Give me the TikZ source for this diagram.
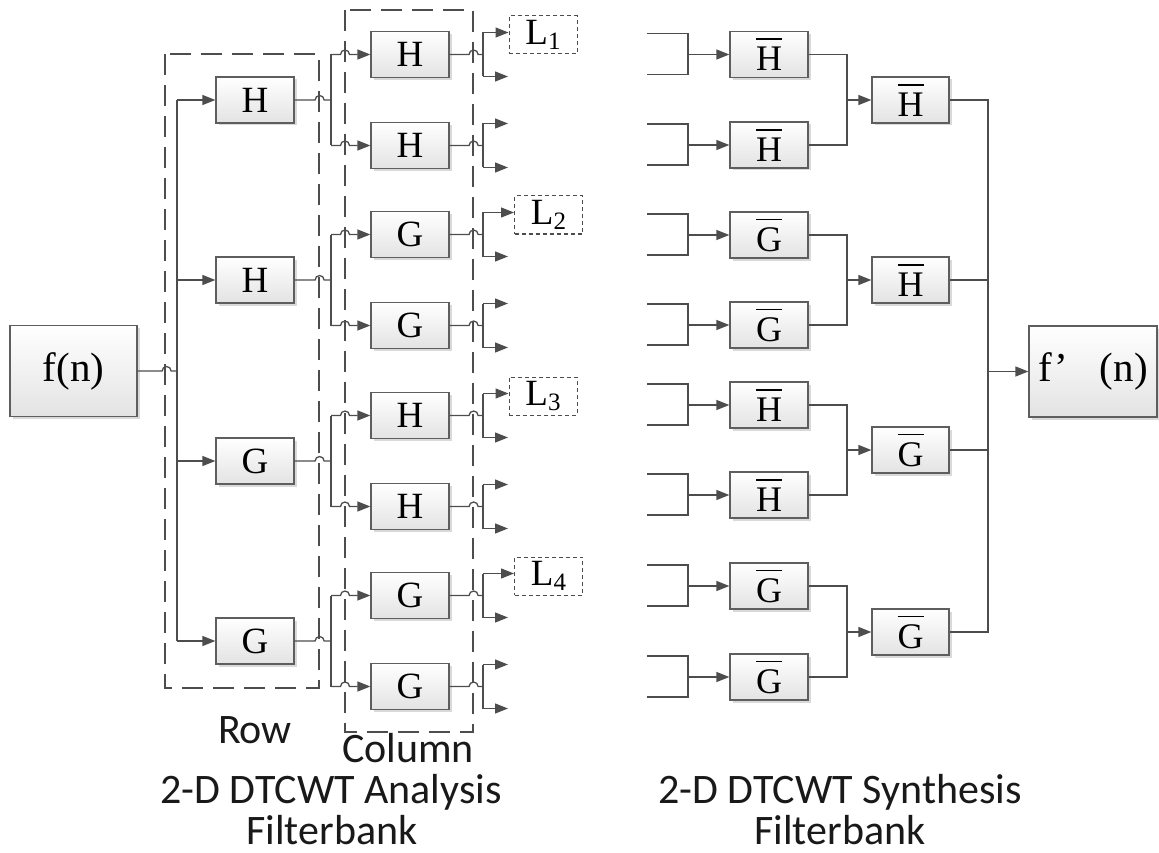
\documentclass[tikz,border=0pt]{standalone}
\usepackage{fontspec}
\setmainfont{Liberation Serif}
\newfontfamily\capfont{Carlito}
\usetikzlibrary{arrows.meta,shadows,calc}
\definecolor{ln}{HTML}{4D4D4D}
\definecolor{bd}{HTML}{5E5E5E}
\newcommand{\ovl}[1]{\vbox{\hrule height 1.8pt\kern 7pt\hbox{#1}}}
\tikzset{
  blk/.style={draw=bd, line width=1.2pt, top color=white, bottom color=black!11,
    minimum width=78pt, minimum height=46pt, inner sep=0pt,
    font=\fontsize{37}{40}\selectfont,
    drop shadow={shadow xshift=2.5pt, shadow yshift=-2.5pt, opacity=0.15, fill=black}},
  bigblk/.style={blk, minimum width=127pt, minimum height=91pt, font=\fontsize{41}{44}\selectfont},
  lbox/.style={draw=ln, dash pattern=on 4pt off 3pt, line width=1pt,
    minimum width=68pt, minimum height=38pt, inner sep=0pt, font=\fontsize{37}{40}\selectfont},
  grp/.style={draw=ln, line width=1.5pt, dash pattern=on 21pt off 10pt},
  wire/.style={draw=ln, line width=1.3pt},
  arr/.style={wire, -{Triangle[length=13pt,width=10pt]}},
  capt/.style={font=\capfont\fontsize{42}{45}\selectfont, text=black!90, inner sep=0pt, anchor=base},
}
\newcommand{\Lsub}[1]{L\raisebox{-0.12em}{\fontsize{25}{25}\selectfont #1}}
\begin{document}
\begin{tikzpicture}[x=1pt,y=-1pt]
\useasboundingbox (0,0) rectangle (1159,853);

% group boxes
\draw[grp] (165,54) rectangle (319,688);
\draw[grp] (345,10) rectangle (473,732);

% analysis nodes
\node[bigblk] (fn) at (73.5,371) {f(n)};
\foreach \n/\y/\t in {1/100/H,2/280/H,3/461/G,4/641/G}
  \node[blk] (r\n) at (255,\y) {\t};
\foreach \n/\y/\t in {1/54.5/H,2/145.5/H,3/234.5/G,4/325.5/G,5/415.5/H,6/506.5/H,7/595.5/G,8/686.5/G}
  \node[blk] (c\n) at (410,\y) {\t};
\node[lbox] (L1) at (543,35) {\Lsub{1}};
\node[lbox] (L2) at (548.5,215) {\Lsub{2}};
\node[lbox] (L3) at (543,396) {\Lsub{3}};
\node[lbox] (L4) at (548.5,576) {\Lsub{4}};

\coordinate (tr) at (177,0);
\coordinate (br) at (331,0);
\coordinate (ob) at (483,0);

% input to row trunk
\draw[wire] (fn.east) -- ++(24.5,0) arc[start angle=180,end angle=0,radius=4.5pt] -- (tr |- fn);
\draw[wire] (tr |- r1) -- (tr |- r4);
\foreach \n in {1,...,4} \draw[arr] (tr |- r\n) -- (r\n.west);

% row outputs to column branches
\foreach \n/\a/\b in {1/1/2,2/3/4,3/5/6,4/7/8}{
  \draw[wire] (r\n.east) -- ++(20.5,0) arc[start angle=180,end angle=0,radius=4.5pt] -- (br |- r\n);
  \draw[wire] (br |- c\a) -- (br |- c\b);
  \draw[arr] (br |- c\a) -- ++(9.5,0) arc[start angle=180,end angle=0,radius=4.5pt] -- (c\a.west);
  \draw[arr] (br |- c\b) -- ++(9.5,0) arc[start angle=180,end angle=0,radius=4.5pt] -- (c\b.west);
}

% column outputs
\foreach \n in {1,...,8}{
  \coordinate (u\n) at ($(ob |- c\n)+(0,-22)$);
  \coordinate (d\n) at ($(ob |- c\n)+(0,22)$);
  \coordinate (de\n) at ($(d\n)+(25,0)$);
  \draw[wire] (c\n.east) -- ++(19.5,0) arc[start angle=180,end angle=0,radius=4.5pt] -- (ob |- c\n);
  \draw[wire] (u\n) -- (d\n);
  \draw[arr] (d\n) -- (de\n);
}
\draw[arr] (u1) -- (u1 -| L1.west);
\draw[arr] (u3) -- (u3 -| L2.west);
\draw[arr] (u5) -- (u5 -| L3.west);
\draw[arr] (u7) -- (u7 -| L4.west);
\foreach \n in {2,4,6,8}{
  \coordinate (ue\n) at ($(u\n)+(25,0)$);
  \draw[arr] (u\n) -- (ue\n);
}

% synthesis nodes
\foreach \n/\y/\t in {1/54.5/H,2/145/H,3/235/G,4/325/G,5/405/H,6/495/H,7/586/G,8/677/G}
  \node[blk, font=\fontsize{36}{40}\selectfont] (s\n) at (769,\y) {\ovl{\t}};
\foreach \n/\y/\t in {1/100/H,2/280/H,3/450/G,4/632/G}
  \node[blk, minimum width=77pt, font=\fontsize{36}{40}\selectfont] (t\n) at (910.5,\y) {\ovl{\t}};
\node[bigblk, minimum width=128pt] (fp) at (1093,371.5) {f’\hspace{32pt}(n)};

\coordinate (ile) at (647,0);
\coordinate (ib) at (688,0);
\coordinate (jx) at (847,0);
\coordinate (mx) at (988,0);

\foreach \n in {1,...,8}{
  \coordinate (sa\n) at ($(ile |- s\n)+(0,-21)$);
  \coordinate (sb\n) at ($(ile |- s\n)+(0,20)$);
  \draw[wire] (sa\n) -| (ib |- s\n) |- (sb\n);
  \draw[arr] (ib |- s\n) -- (s\n.west);
}
\foreach \n/\a/\b in {1/1/2,2/3/4,3/5/6,4/7/8}{
  \draw[wire] (s\a.east) -| (jx |- t\n) |- (s\b.east);
  \draw[arr] (jx |- t\n) -- (t\n.west);
}
\draw[wire] (t1.east) -| (mx |- t4) -- (t4.east);
\draw[wire] (t2.east) -- (mx |- t2);
\draw[wire] (t3.east) -- (mx |- t3);
\draw[arr] (mx |- fp) -- (fp.west);

% captions
\node[capt] (rowl) at (255,743) {Row};
\node[capt] (coll) at (408,762) {Column};
\node[capt] (anl) at (331,803) {2-D DTCWT Analysis};
\node[capt] (anf) at (332,844) {Filterbank};
\node[capt] (syl) at (840,803) {2-D DTCWT Synthesis};
\node[capt] (syf) at (840,844) {Filterbank};
\end{tikzpicture}
\end{document}
